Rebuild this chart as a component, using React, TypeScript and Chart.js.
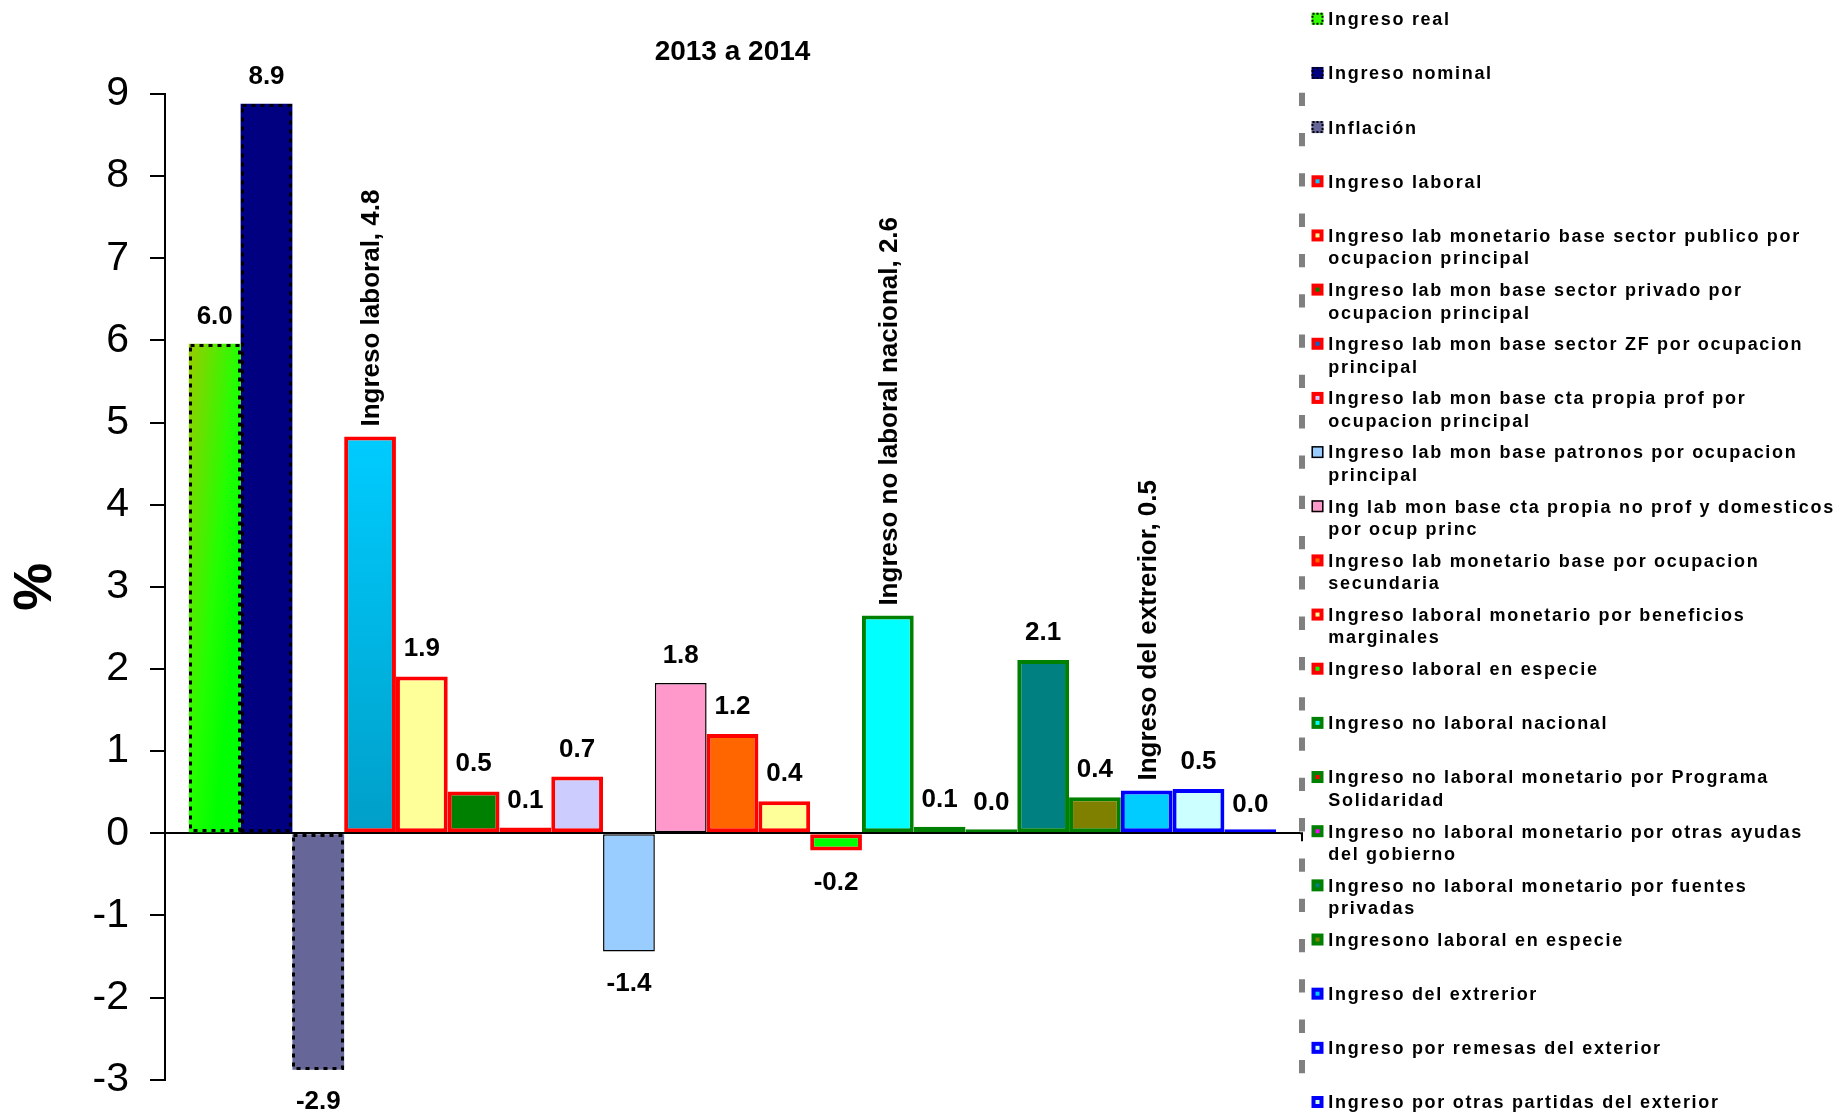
import React, { useEffect, useRef } from 'react';
import { Chart, registerables } from 'chart.js';

Chart.register(...registerables);

const FONT = '"Liberation Sans", Arial, Helvetica, sans-serif';

// ---------- data ----------
const chartTitle = '2013 a 2014';
const axisTitle = '%';
const categories = [''];

const seriesNames = [
  'Ingreso real',
  'Ingreso nominal',
  'Inflación',
  'Ingreso laboral',
  'Ingreso lab monetario base sector publico por\nocupacion principal',
  'Ingreso lab mon base sector privado por\nocupacion principal',
  'Ingreso lab mon base sector ZF por ocupacion\nprincipal',
  'Ingreso lab mon base cta propia prof por\nocupacion principal',
  'Ingreso lab mon base patronos por ocupacion\nprincipal',
  'Ing lab mon base cta propia no prof y domesticos\npor ocup princ',
  'Ingreso lab monetario base por ocupacion\nsecundaria',
  'Ingreso laboral monetario por beneficios\nmarginales',
  'Ingreso laboral en especie',
  'Ingreso no laboral nacional',
  'Ingreso no laboral monetario por Programa\nSolidaridad',
  'Ingreso no laboral monetario por otras ayudas\ndel gobierno',
  'Ingreso no laboral monetario por fuentes\nprivadas',
  'Ingresono laboral en especie',
  'Ingreso del extrerior',
  'Ingreso por remesas del exterior',
  'Ingreso por otras partidas del exterior',
];

const seriesValues = [
  5.96, 8.88, -2.88, 4.83, 1.91, 0.51, 0.07, 0.69, -1.44, 1.83, 1.21,
  0.39, -0.21, 2.65, 0.08, 0.04, 2.11, 0.44, 0.52, 0.54, 0.01,
];

const yMin = -3;
const yMax = 9;
const yStep = 1;

// ---------- styles ----------
const fillColors = [
  '#33FF00', '#000080', '#666699', '#00CCFF', '#FFFF99', '#008000', '#0066CC',
  '#CCCCFF', '#99CCFF', '#FF99CC', '#FF6600', '#FFFF99', '#00FF00', '#00FFFF',
  '#FF0000', '#FF00FF', '#008080', '#808000', '#00CCFF', '#CCFFFF', '#CCFFCC',
];
const borderColors = [
  '#000000', '#000000', '#000000', '#FF0000', '#FF0000', '#FF0000', '#FF0000',
  '#FF0000', '#000000', '#000000', '#FF0000', '#FF0000', '#FF0000', '#008000',
  '#008000', '#008000', '#008000', '#008000', '#0000FF', '#0000FF', '#0000FF',
];
const borderWidths = [
  0, 0, 0, 4, 4, 4, 4, 4, 1.5, 1.5, 4, 4, 4, 4, 4, 4, 4, 4, 4, 4, 4,
];
const dottedBorderSeries = [0, 1, 2];
const rotatedLabelSeries = [3, 13, 18];
const gradientSpecs: Record<number, { kind: string; stops: [number, string][] }> = {
  0: { kind: 'diagonal', stops: [[0, '#99CC00'], [0.5, '#22FF00'], [0.75, '#00FF00'], [1, '#00FF00']] },
  3: { kind: 'vertical', stops: [[0, '#00CCFF'], [1, '#009FC8']] },
};

function barRect(el: any) {
  const p = el.getProps(['x', 'y', 'base', 'width'], true);
  const left = p.x - p.width / 2;
  const top = Math.min(p.y, p.base);
  const h = Math.abs(p.y - p.base);
  return { left, top, w: p.width, h, x: p.x };
}

const gradientPlugin = {
  id: 'barGradients',
  beforeDatasetsDraw(chart: any) {
    const ctx = chart.ctx as CanvasRenderingContext2D;
    Object.keys(gradientSpecs).forEach((k) => {
      const i = Number(k);
      const spec = gradientSpecs[i];
      const el = chart.getDatasetMeta(i).data[0];
      if (!el) return;
      const r = barRect(el);
      let g: CanvasGradient;
      if (spec.kind === 'diagonal') {
        const s = 2 / (1 / (r.w * r.w) + 1 / (r.h * r.h));
        g = ctx.createLinearGradient(r.left, r.top, r.left + s / r.w, r.top + s / r.h);
      } else {
        g = ctx.createLinearGradient(0, r.top, 0, r.top + r.h);
      }
      spec.stops.forEach(([o, c]) => g.addColorStop(o, c));
      el.options = Object.assign({}, el.options, { backgroundColor: g });
    });
  },
};

const dottedBorderPlugin = {
  id: 'dottedBorders',
  afterDatasetsDraw(chart: any) {
    const ctx = chart.ctx as CanvasRenderingContext2D;
    ctx.save();
    ctx.strokeStyle = '#000';
    ctx.lineWidth = 3;
    ctx.setLineDash([4, 5]);
    dottedBorderSeries.forEach((i) => {
      const el = chart.getDatasetMeta(i).data[0];
      if (!el) return;
      const r = barRect(el);
      const l = Math.round(r.left) + 1.5;
      const t = Math.round(r.top) + 1.5;
      const rr = Math.round(r.left + r.w) - 1.5;
      const b = Math.round(r.top + r.h) - 1.5;
      ctx.strokeRect(l, t, rr - l, b - t);
    });
    ctx.restore();
  },
};

const valueLabelPlugin = {
  id: 'valueLabels',
  afterDatasetsDraw(chart: any) {
    const ctx = chart.ctx as CanvasRenderingContext2D;
    const yScale = chart.scales.y;
    ctx.save();
    ctx.font = `bold 26px ${FONT}`;
    ctx.fillStyle = '#000';
    chart.data.datasets.forEach((ds: any, i: number) => {
      const el = chart.getDatasetMeta(i).data[0];
      if (!el) return;
      const v = seriesValues[i];
      const yPix = yScale.getPixelForValue(v);
      const txt = v.toFixed(1);
      if (rotatedLabelSeries.includes(i)) {
        const name = String(ds.label).replace(/\n/g, ' ');
        ctx.save();
        ctx.translate(el.x, yPix - 10);
        ctx.rotate(-Math.PI / 2);
        ctx.textAlign = 'left';
        ctx.textBaseline = 'alphabetic';
        ctx.fillText(`${name}, ${txt}`, 0, 9.3);
        ctx.restore();
      } else {
        ctx.textAlign = 'center';
        ctx.textBaseline = 'alphabetic';
        if (v >= 0) ctx.fillText(txt, el.x, yPix - 20);
        else ctx.fillText(txt, el.x, yPix + 39);
      }
    });
    ctx.restore();
  },
};

const frameDecorPlugin = {
  id: 'frameDecor',
  afterDraw(chart: any) {
    const ctx = chart.ctx as CanvasRenderingContext2D;
    const { top, bottom, right } = chart.chartArea;
    ctx.save();
    ctx.strokeStyle = '#808080';
    ctx.lineWidth = 6;
    ctx.setLineDash([13.3, 27]);
    ctx.beginPath();
    ctx.moveTo(right + 2, top - 1.3);
    ctx.lineTo(right + 2, bottom);
    ctx.stroke();
    ctx.setLineDash([]);
    const y0 = chart.scales.y.getPixelForValue(0);
    ctx.strokeStyle = '#000';
    ctx.lineWidth = 2;
    ctx.beginPath();
    ctx.moveTo(right, y0);
    ctx.lineTo(right + 2, y0);
    ctx.lineTo(right + 2, y0 + 8);
    ctx.stroke();
    ctx.restore();
  },
};

function drawSwatch(ctx: CanvasRenderingContext2D, i: number, x: number, y: number, s: number) {
  if (dottedBorderSeries.includes(i)) {
    ctx.fillStyle = fillColors[i];
    ctx.fillRect(x, y, s, s);
    ctx.strokeStyle = '#000';
    ctx.lineWidth = 2;
    ctx.setLineDash([2, 2]);
    ctx.strokeRect(x + 1, y + 1, s - 2, s - 2);
    ctx.setLineDash([]);
  } else if (borderWidths[i] >= 3) {
    ctx.fillStyle = borderColors[i];
    ctx.fillRect(x, y, s, s);
    ctx.fillStyle = fillColors[i];
    ctx.fillRect(x + 4, y + 4, s - 8, s - 8);
  } else {
    ctx.fillStyle = fillColors[i];
    ctx.fillRect(x, y, s, s);
    ctx.strokeStyle = borderColors[i];
    ctx.lineWidth = 1.5;
    ctx.strokeRect(x + 0.75, y + 0.75, s - 1.5, s - 1.5);
  }
}

const sideLegendPlugin = {
  id: 'sideLegend',
  afterDraw(chart: any) {
    const ctx = chart.ctx as any;
    const right = chart.chartArea.right;
    const swatchX = right + 11.5;
    const textX = right + 28.3;
    const firstY = 18.8;
    const step = 54.16;
    const lineGap = 22.5;
    ctx.save();
    chart.data.datasets.forEach((ds: any, i: number) => {
      const cy = firstY + i * step;
      drawSwatch(ctx, i, swatchX, cy - 6, 12);
      ctx.font = `bold 18px ${FONT}`;
      ctx.letterSpacing = '1.7px';
      ctx.fillStyle = '#000';
      ctx.textAlign = 'left';
      ctx.textBaseline = 'alphabetic';
      String(ds.label)
        .split('\n')
        .forEach((line: string, k: number) => ctx.fillText(line, textX, cy + 6.4 + k * lineGap));
      ctx.letterSpacing = '0px';
    });
    ctx.restore();
  },
};

export default function App() {
  const canvasRef = useRef<HTMLCanvasElement | null>(null);

  useEffect(() => {
    const canvas = canvasRef.current;
    if (!canvas) return;
    const chart = new Chart(canvas, {
      type: 'bar',
      data: {
        labels: categories,
        datasets: seriesNames.map((name, i) => ({
          label: name,
          data: [seriesValues[i]],
          backgroundColor: fillColors[i],
          borderColor: borderColors[i],
          borderWidth: borderWidths[i],
          borderSkipped: false,
          minBarLength: 4,
        })),
      },
      options: {
        responsive: false,
        animation: false,
        events: [],
        layout: { padding: { left: 0, right: 537, top: 0, bottom: 33.3 } },
        datasets: { bar: { categoryPercentage: 0.958, barPercentage: 1 } },
        scales: {
          x: { display: false },
          y: {
            min: yMin,
            max: yMax,
            afterFit: (scale: any) => {
              scale.width = 165;
              scale.paddingTop = 0;
              scale.paddingBottom = 0;
            },
            ticks: {
              stepSize: yStep,
              color: '#000',
              padding: 21,
              font: { family: FONT, size: 41 },
            },
            grid: {
              color: (c: any) => (c.tick && c.tick.value === 0 ? '#000' : 'rgba(0,0,0,0)'),
              lineWidth: 2,
              drawTicks: true,
              tickLength: 15,
              tickColor: '#000',
              tickWidth: 2,
            },
            border: { display: true, color: '#000', width: 2 },
            title: {
              display: true,
              text: axisTitle,
              color: '#000',
              font: { family: FONT, size: 54, weight: 'bold' },
              padding: { top: 4, bottom: 0 },
            },
          },
        },
        plugins: {
          legend: { display: false },
          tooltip: { enabled: false },
          title: {
            display: true,
            text: chartTitle,
            fullSize: false,
            color: '#000',
            font: { family: FONT, size: 28, weight: 'bold' },
            padding: { top: 35, bottom: 25.4 },
          },
        },
      } as any,
      plugins: [gradientPlugin, dottedBorderPlugin, valueLabelPlugin, frameDecorPlugin, sideLegendPlugin],
    });
    return () => chart.destroy();
  }, []);

  return (
    <div style={{ position: 'fixed', left: 0, top: 0, width: 1837, height: 1113, background: '#fff' }}>
      <canvas ref={canvasRef} width={1837} height={1113} style={{ display: 'block' }} />
    </div>
  );
}
